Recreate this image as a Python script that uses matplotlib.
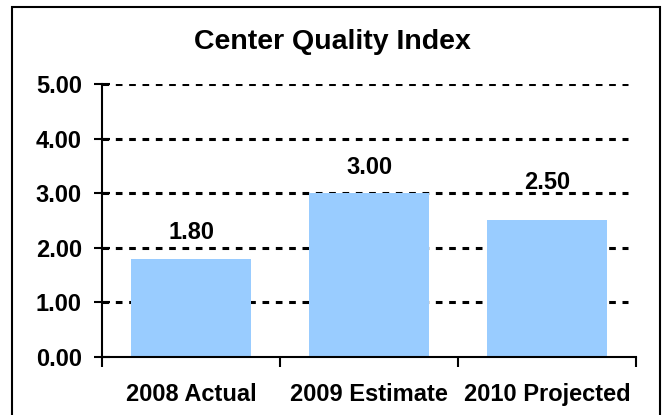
import matplotlib.pyplot as plt
from matplotlib.patches import Rectangle

plt.rcParams['font.family'] = ['Liberation Sans', 'DejaVu Sans']
plt.rcParams['font.weight'] = 'bold'
plt.rcParams['lines.scale_dashes'] = False

# data
categories = ["2008 Actual", "2009 Estimate", "2010 Projected"]
values = [1.80, 3.00, 2.50]
yticks = [0, 1, 2, 3, 4, 5]
label_offsets = [14, 14, 22.5]  # points above bar top

fig = plt.figure(figsize=(6.65, 4.15), dpi=100)
ax = fig.add_axes([102/665, 1-357/415, 534/665, (357-84)/415])

x = list(range(len(categories)))
ax.bar(x, values, width=0.67, color="#99CCFF", zorder=2)

for yv in yticks[1:]:
    ax.axhline(yv, xmax=0.985, color="black", lw=2.2, dashes=(4.8, 4.8), zorder=1)

for xi, v, off in zip(x, values, label_offsets):
    ax.annotate(f"{v:.2f}", (xi, v), xytext=(0, off), textcoords="offset points",
                ha="center", va="baseline", fontsize=17, fontweight="bold")

ax.set_xlim(-0.5, len(categories) - 0.5)
ax.set_ylim(0, 5)
ax.set_yticks(yticks)
ax.set_yticklabels([f"{t:.2f}" for t in yticks])
ax.set_xticks([i - 0.5 for i in range(len(categories) + 1)])
ax.set_xticklabels([])
ax.set_xticks(x, minor=True)
ax.set_xticklabels(categories, minor=True)

ax.tick_params(axis="y", direction="inout", length=11, width=1.5, pad=9, labelsize=17)
ax.tick_params(axis="x", which="major", direction="out", length=7, width=1.5)
ax.tick_params(axis="x", which="minor", length=0, pad=19, labelsize=17)

for s in ["top", "right"]:
    ax.spines[s].set_visible(False)
for s in ["left", "bottom"]:
    ax.spines[s].set_linewidth(1.5)
    ax.spines[s].set_zorder(3)

fig.text(0.5, 1-42/415, "Center Quality Index", ha="center", va="center",
         fontsize=20.5, fontweight="bold")

fig.patches.append(Rectangle((12/665, -0.05), 648/665, 1.05-7/415,
                             transform=fig.transFigure, fill=False,
                             edgecolor="black", lw=1.5, clip_on=False))

fig.savefig("out.png", dpi=100)
